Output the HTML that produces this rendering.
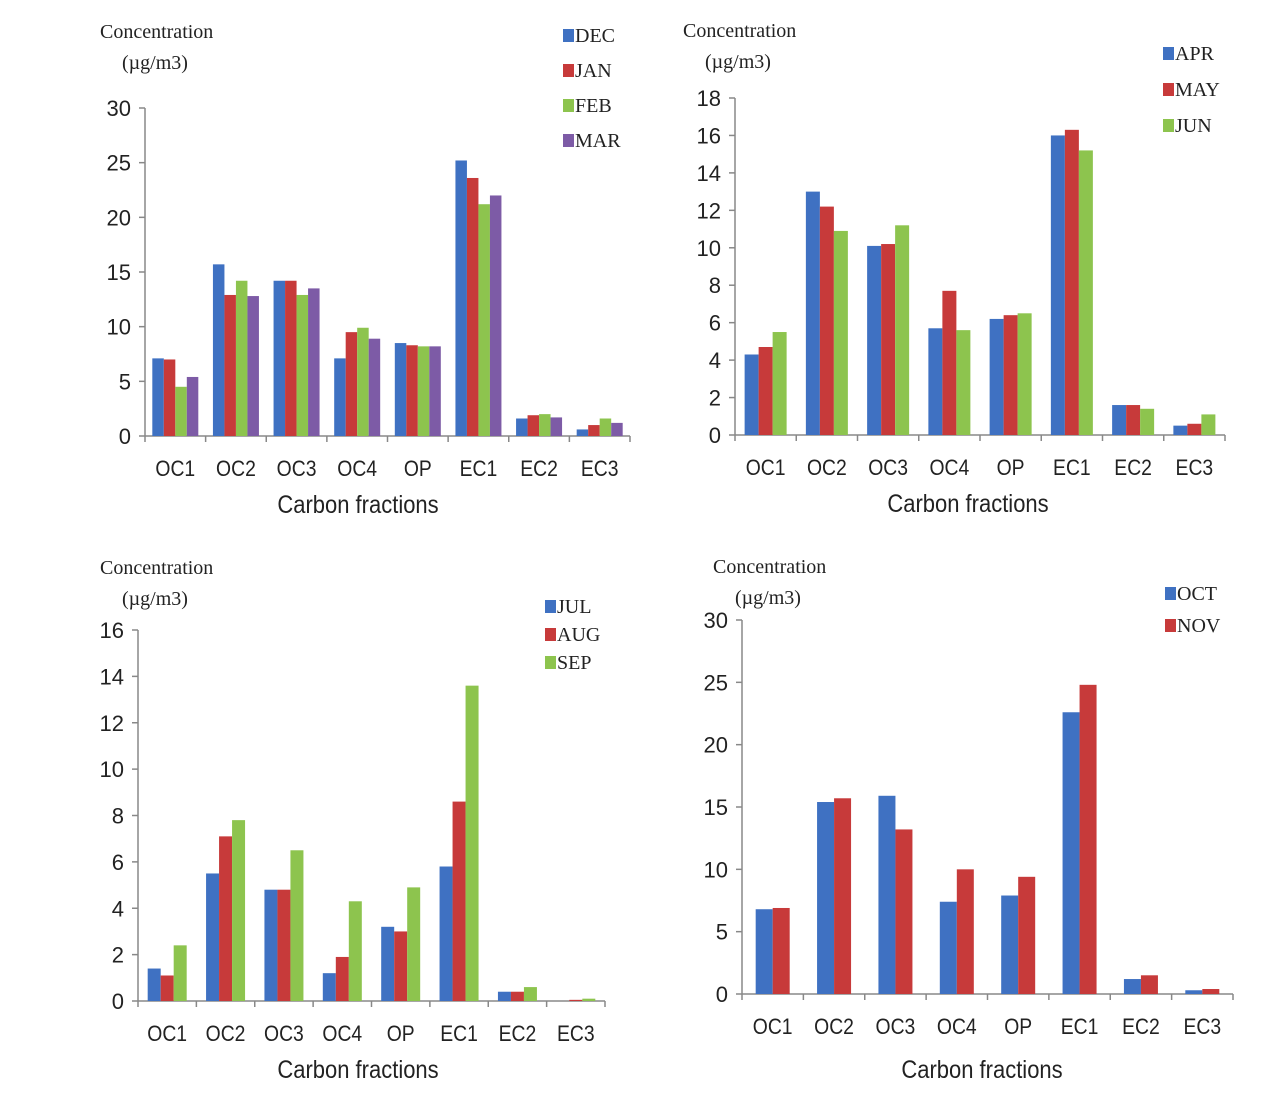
<!DOCTYPE html>
<html><head><meta charset="utf-8">
<style>
html,body{margin:0;padding:0;background:#fff;}
svg{display:block;}
text{font-family:"Liberation Sans",sans-serif;fill:#222;}
.tick{font-size:22px;}
.cat{font-size:22px;}
.ttl{font-size:25px;}
.ylab{font-family:"Liberation Serif",serif;font-size:20px;}
.leg{font-family:"Liberation Serif",serif;font-size:20px;}
</style></head>
<body>
<svg id="chart" width="1268" height="1094" viewBox="0 0 1268 1094" xmlns="http://www.w3.org/2000/svg"></svg>
<script>
const categories = ["OC1","OC2","OC3","OC4","OP","EC1","EC2","EC3"];
// Panel 1
const p1Series = ["DEC","JAN","FEB","MAR"];
const p1DEC = [7.1,15.7,14.2,7.1,8.5,25.2,1.6,0.6];
const p1JAN = [7.0,12.9,14.2,9.5,8.3,23.6,1.9,1.0];
const p1FEB = [4.5,14.2,12.9,9.9,8.2,21.2,2.0,1.6];
const p1MAR = [5.4,12.8,13.5,8.9,8.2,22.0,1.7,1.2];
const p1Ticks = [0,5,10,15,20,25,30];
// Panel 2
const p2Series = ["APR","MAY","JUN"];
const p2APR = [4.3,13.0,10.1,5.7,6.2,16.0,1.6,0.5];
const p2MAY = [4.7,12.2,10.2,7.7,6.4,16.3,1.6,0.6];
const p2JUN = [5.5,10.9,11.2,5.6,6.5,15.2,1.4,1.1];
const p2Ticks = [0,2,4,6,8,10,12,14,16,18];
// Panel 3
const p3Series = ["JUL","AUG","SEP"];
const p3JUL = [1.4,5.5,4.8,1.2,3.2,5.8,0.4,0.0];
const p3AUG = [1.1,7.1,4.8,1.9,3.0,8.6,0.4,0.05];
const p3SEP = [2.4,7.8,6.5,4.3,4.9,13.6,0.6,0.1];
const p3Ticks = [0,2,4,6,8,10,12,14,16];
// Panel 4
const p4Series = ["OCT","NOV"];
const p4OCT = [6.8,15.4,15.9,7.4,7.9,22.6,1.2,0.3];
const p4NOV = [6.9,15.7,13.2,10.0,9.4,24.8,1.5,0.4];
const p4Ticks = [0,5,10,15,20,25,30];

const colors = ["#3F71C2","#C73A3A","#8DC44E","#7D5BA6"];
const NS = "http://www.w3.org/2000/svg";
const svg = document.getElementById("chart");
function mk(tag, attrs, parent){
  const e = document.createElementNS(NS, tag);
  for (const k in attrs) e.setAttribute(k, attrs[k]);
  (parent||svg).appendChild(e);
  return e;
}
function panel(id, cfg, series, data, ticks){
  const g = mk("g", {});
  
  
  const yMax = ticks[ticks.length-1];
  const y = v => cfg.y0 - (v / yMax) * (cfg.y0 - cfg.yTop);
  const step = (cfg.x1 - cfg.x0) / categories.length;
  const xc = i => cfg.x0 + step * (i + 0.5);
  const bw = cfg.bw;
  const ya = mk("line", {x1:cfg.x0,y1:cfg.yTop,x2:cfg.x0,y2:cfg.y0,stroke:"#888","stroke-width":1.5}, g);
  
  
  const xa = mk("line", {x1:cfg.x0,y1:cfg.y0,x2:cfg.x1,y2:cfg.y0,stroke:"#888","stroke-width":1.5}, g);
  
  
  ticks.forEach(t => {
    mk("line", {x1:cfg.x0-6,y1:y(t),x2:cfg.x0,y2:y(t),stroke:"#888","stroke-width":1.5}, g);
    const tx = mk("text", {x:cfg.x0-14,y:y(t)+8,"text-anchor":"end",class:"tick"}, g);
    tx.textContent = t;
    
    
  });
  for (let i=0;i<=categories.length;i++){
    const xx = cfg.x0 + step*i;
    mk("line", {x1:xx,y1:cfg.y0,x2:xx,y2:cfg.y0+6,stroke:"#888","stroke-width":1.5}, g);
  }
  categories.forEach((c,i) => {
    const tx = mk("text", {x:xc(i),y:cfg.y0+40,"text-anchor":"middle",class:"cat",transform:"translate("+xc(i)+",0) scale(0.88,1) translate("+(-xc(i))+",0)"}, g);
    tx.textContent = c;
    
    
  });
  const n = series.length;
  data.forEach((vals, s) => {
    vals.forEach((v,i) => {
      const left = xc(i) - n*bw/2 + s*bw;
      const r = mk("rect", {x:left,y:y(v),width:bw,height:cfg.y0 - y(v),fill:colors[s]}, g);
      
      
    });
  });
  const t1 = mk("text", {x:cfg.ylx,y:cfg.yly,class:"ylab"}, g);
  t1.textContent = "Concentration";
  
  
  const t2 = mk("text", {x:cfg.ylx+22,y:cfg.yly+31,class:"ylab"}, g);
  t2.textContent = "(µg/m3)";
  
  
  const xt = mk("text", {x:cfg.tx,y:cfg.ty,"text-anchor":"middle",class:"ttl",transform:"translate("+cfg.tx+",0) scale(0.88,1) translate("+(-cfg.tx)+",0)"}, g);
  xt.textContent = "Carbon fractions";
  
  
  series.forEach((s,k) => {
    const ly = cfg.ly + k*cfg.lgap;
    const sw = mk("rect", {x:cfg.lx,y:ly-13,width:11,height:13,fill:colors[k]}, g);
    
    
    const lt = mk("text", {x:cfg.lx+12,y:ly,class:"leg"}, g);
    lt.textContent = s;
    
    
  });
}
panel("panel-dec-mar", {x0:145,x1:630,y0:436,yTop:108,bw:11.5,ylx:100,yly:38,lx:563,ly:42,lgap:35,tx:358,ty:513}, p1Series, [p1DEC,p1JAN,p1FEB,p1MAR], p1Ticks);
panel("panel-apr-jun", {x0:735,x1:1225,y0:435,yTop:98,bw:14,ylx:683,yly:37,lx:1163,ly:60,lgap:36,tx:968,ty:512}, p2Series, [p2APR,p2MAY,p2JUN], p2Ticks);
panel("panel-jul-sep", {x0:138,x1:605,y0:1001,yTop:630,bw:13,ylx:100,yly:574,lx:545,ly:613,lgap:28,tx:358,ty:1078}, p3Series, [p3JUL,p3AUG,p3SEP], p3Ticks);
panel("panel-oct-nov", {x0:742,x1:1233,y0:994,yTop:620,bw:17,ylx:713,yly:573,lx:1165,ly:600,lgap:32,tx:982,ty:1078}, p4Series, [p4OCT,p4NOV], p4Ticks);
</script>
</body></html>
